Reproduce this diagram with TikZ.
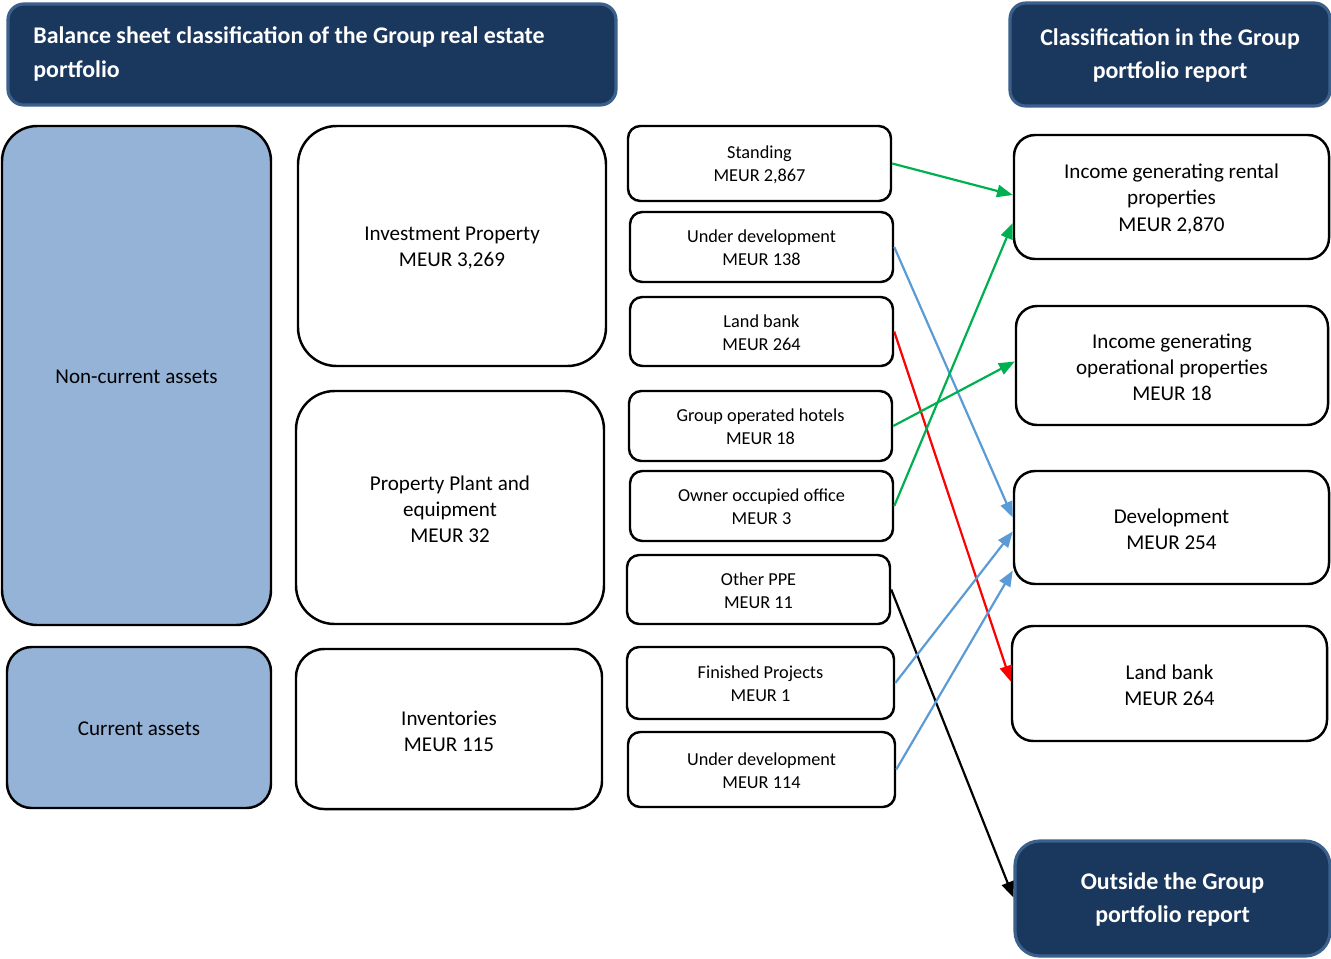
\documentclass[tikz,border=0pt]{standalone}
\usepackage{fontspec}
\setmainfont{Carlito}
\usetikzlibrary{fit,calc,arrows.meta}
\definecolor{navy}{RGB}{26,55,94}
\definecolor{navyborder}{RGB}{60,96,140}
\definecolor{lightblue}{RGB}{149,179,215}
\definecolor{agreen}{RGB}{0,176,80}
\definecolor{ablue}{RGB}{91,155,213}
\definecolor{ared}{RGB}{255,0,0}
\tikzset{
  base/.style={inner sep=0pt, line width=1.4pt},
  hdr/.style={base, draw=navyborder, fill=navy, line width=1.8pt, rounded corners=9pt},
  cat/.style={base, draw=black, fill=lightblue, rounded corners=20pt},
  big/.style={base, draw=black, fill=white, rounded corners=22pt},
  small/.style={base, draw=black, fill=white, rounded corners=7pt},
  rbox/.style={base, draw=black, fill=white, rounded corners=12pt},
  htxt/.style={inner sep=0pt, align=center, text=white, font=\fontsize{13.6}{19.2}\selectfont\bfseries},
  ltxt/.style={inner sep=0pt, align=center, font=\fontsize{12}{14.9}\selectfont},
  stxt/.style={inner sep=0pt, align=center, font=\fontsize{10.4}{13}\selectfont},
  conn/.style={line width=1.25pt, -{Triangle[length=9pt,width=7pt]}},
}
\begin{document}
\begin{tikzpicture}[x=0.02cm,y=-0.02cm]
\useasboundingbox (0,0) rectangle (1331,958);
% headers
\node[hdr, fit={(8,4) (616,105)}] (hl) {};
\node[htxt, align=left, anchor=west] (hl-t) at (33,54) {Balance sheet classification of the Group real estate\\portfolio};
\node[hdr, fit={(1010,3) (1330,106)}] (hr) {};
\node[htxt] (hr-t) at ($(hr.center)+(0,1)$) {Classification in the Group\\portfolio report};
% categories
\node[cat, fit={(2,126) (271,625)}] (nca) {};
\node[ltxt] (nca-t) at ($(nca.center)+(0,1)$) {Non-current assets};
\node[cat, fit={(7,647) (271,808)}, rounded corners=14pt] (ca) {};
\node[ltxt] (ca-t) at ($(ca.center)+(0,1)$) {Current assets};
% balance sheet items
\node[big, fit={(298,126) (606,366)}] (ip) {};
\node[ltxt] (ip-t) at ($(ip.center)+(0,2)$) {Investment Property\\MEUR 3,269};
\node[big, fit={(296,391) (604,624)}] (ppe) {};
\node[ltxt] (ppe-t) at ($(ppe.center)+(0,2)$) {Property Plant and\\equipment\\MEUR 32};
\node[big, fit={(296,649) (602,809)}, rounded corners=16pt] (inv) {};
\node[ltxt] (inv-t) at ($(inv.center)+(0,2)$) {Inventories\\MEUR 115};
% sub items
\node[small, fit={(628,126) (891,201)}] (st) {};
\node[stxt] (st-t) at ($(st.center)+(0,1)$) {Standing\\MEUR 2,867};
\node[small, fit={(630,212) (893,282)}] (ud1) {};
\node[stxt] (ud1-t) at ($(ud1.center)+(0,1)$) {Under development\\MEUR 138};
\node[small, fit={(630,297) (893,366)}] (lb1) {};
\node[stxt] (lb1-t) at ($(lb1.center)+(0,1)$) {Land bank\\MEUR 264};
\node[small, fit={(629,391) (892,461)}] (hot) {};
\node[stxt] (hot-t) at ($(hot.center)+(0,1)$) {Group operated hotels\\MEUR 18};
\node[small, fit={(630,471) (893,541)}] (own) {};
\node[stxt] (own-t) at ($(own.center)+(0,1)$) {Owner occupied office\\MEUR 3};
\node[small, fit={(627,555) (890,624)}] (oth) {};
\node[stxt] (oth-t) at ($(oth.center)+(0,1)$) {Other PPE\\MEUR 11};
\node[small, fit={(627,647) (894,719)}] (fin) {};
\node[stxt] (fin-t) at ($(fin.center)+(0,1)$) {Finished Projects\\MEUR 1};
\node[small, fit={(628,732) (895,807)}] (ud2) {};
\node[stxt] (ud2-t) at ($(ud2.center)+(0,1)$) {Under development\\MEUR 114};
% portfolio report classes
\node[rbox, fit={(1014,135) (1329,259)}] (igr) {};
\node[ltxt] (igr-t) at ($(igr.center)+(0,2)$) {Income generating rental\\properties\\MEUR 2,870};
\node[rbox, fit={(1016,306) (1328,425)}] (igo) {};
\node[ltxt] (igo-t) at ($(igo.center)+(0,2)$) {Income generating\\operational properties\\MEUR 18};
\node[rbox, fit={(1014,471) (1329,584)}] (dev) {};
\node[ltxt] (dev-t) at ($(dev.center)+(0,2)$) {Development\\MEUR 254};
\node[rbox, fit={(1012,626) (1327,741)}] (lb2) {};
\node[ltxt] (lb2-t) at ($(lb2.center)+(0,2)$) {Land bank\\MEUR 264};
\node[hdr, fit={(1015,841) (1330,956)}, rounded corners=14pt] (out) {};
\node[htxt] (out-t) at ($(out.center)+(0,1)$) {Outside the Group\\portfolio report};
% connectors
\draw[conn, agreen] (st.east) -- ($(igr.west)+(0,-2)$);
\draw[conn, ablue] (ud1.east) -- ($(dev.west)+(0,-10)$);
\draw[conn, ared] (lb1.east) -- ($(lb2.west)+(0,-2)$);
\draw[conn, agreen] (hot.east) -- ($(igo.west)+(0,-4)$);
\draw[conn, agreen] (own.east) -- ($(igr.west)+(0,26)$);
\draw[conn, black] (oth.east) -- ($(out.west)+(0,-1)$);
\draw[conn, ablue] (fin.east) -- ($(dev.west)+(0,4)$);
\draw[conn, ablue] (ud2.east) -- ($(dev.west)+(0,43)$);
\end{tikzpicture}
\end{document}
